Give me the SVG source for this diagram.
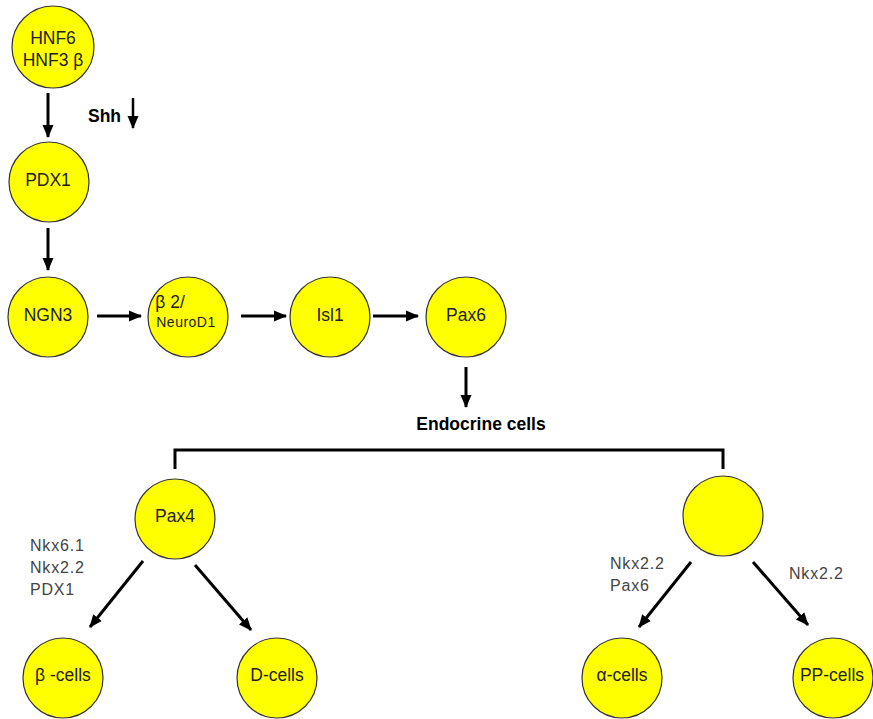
<svg xmlns="http://www.w3.org/2000/svg" width="873" height="719" viewBox="0 0 873 719">
<defs>
<style>
.node circle{fill:#ffff00;stroke:#333;stroke-width:1.2}
.t{font-family:"Liberation Sans",Arial,sans-serif;font-size:17.5px;fill:#222;text-anchor:middle;dominant-baseline:central}
.lbl{font-family:"Liberation Sans",Arial,sans-serif;font-size:16px;letter-spacing:0.8px;fill:#444}
.b{font-family:"Liberation Sans",Arial,sans-serif;font-size:17.5px;font-weight:bold;fill:#000}
.c{stroke:#000;stroke-width:3;fill:none}
</style>
<marker id="ah" markerUnits="userSpaceOnUse" markerWidth="14" markerHeight="14" viewBox="0 0 14 14" refX="12" refY="7" orient="auto">
<path d="M0,1.5 L13,7 L0,12.5 Z" fill="#000"/>
</marker>
</defs>
<rect width="873" height="719" fill="#fff"/>
<g id="connectors">
<line class="c" x1="48" y1="93" x2="48" y2="137" marker-end="url(#ah)"/>
<line class="c" x1="133" y1="98" x2="133" y2="128" style="stroke-width:2.5" marker-end="url(#ah)"/>
<line class="c" x1="48" y1="228" x2="48" y2="270" marker-end="url(#ah)"/>
<line class="c" x1="97" y1="316" x2="141" y2="316" marker-end="url(#ah)"/>
<line class="c" x1="241" y1="316" x2="286" y2="316" marker-end="url(#ah)"/>
<line class="c" x1="373" y1="316" x2="418" y2="316" marker-end="url(#ah)"/>
<line class="c" x1="466" y1="367" x2="466" y2="407" marker-end="url(#ah)"/>
<polyline class="c" points="175,469 175,450 723,450 723,469"/>
<line class="c" x1="143" y1="561" x2="90" y2="627" marker-end="url(#ah)"/>
<line class="c" x1="195" y1="565" x2="251" y2="630" marker-end="url(#ah)"/>
<line class="c" x1="691" y1="562" x2="639" y2="627" marker-end="url(#ah)"/>
<line class="c" x1="753" y1="562" x2="808" y2="625" marker-end="url(#ah)"/>
</g>
<g id="hnf" class="node"><circle cx="53" cy="47" r="41"/><text class="t" x="53" y="38">HNF6</text><text class="t" x="53" y="60">HNF3 β</text></g>
<g id="pdx1" class="node"><circle cx="49" cy="182" r="40"/><text class="t" x="48" y="180">PDX1</text></g>
<g id="ngn3" class="node"><circle cx="48" cy="317" r="40"/><text class="t" x="48" y="315">NGN3</text></g>
<g id="neurod1" class="node"><circle cx="188" cy="317" r="40"/><text class="t" x="170" y="302">β 2/</text><text class="t" x="186" y="322" style="font-size:14px;letter-spacing:0.5px">NeuroD1</text></g>
<g id="isl1" class="node"><circle cx="330" cy="317" r="40"/><text class="t" x="330" y="315">Isl1</text></g>
<g id="pax6" class="node"><circle cx="466" cy="317" r="40"/><text class="t" x="466" y="315">Pax6</text></g>
<g id="pax4" class="node"><circle cx="175" cy="519" r="40"/><text class="t" x="175" y="516">Pax4</text></g>
<g id="blank" class="node"><circle cx="723" cy="516" r="40"/></g>
<g id="bcells" class="node"><circle cx="63" cy="678" r="40"/><text class="t" x="63" y="675">β  -cells</text></g>
<g id="dcells" class="node"><circle cx="277" cy="678" r="40"/><text class="t" x="277" y="675">D-cells</text></g>
<g id="acells" class="node"><circle cx="622" cy="678" r="40"/><text class="t" x="622" y="675">α-cells</text></g>
<g id="ppcells" class="node"><circle cx="833" cy="678" r="40"/><text class="t" x="832" y="675">PP-cells</text></g>
<g id="labels">
<text class="b" x="88" y="122">Shh</text>
<text class="b" x="481" y="430" text-anchor="middle">Endocrine cells</text>
<text class="lbl" x="30" y="551">Nkx6.1</text>
<text class="lbl" x="30" y="573">Nkx2.2</text>
<text class="lbl" x="30" y="595">PDX1</text>
<text class="lbl" x="610" y="569">Nkx2.2</text>
<text class="lbl" x="610" y="591">Pax6</text>
<text class="lbl" x="789" y="579">Nkx2.2</text>
</g>
</svg>
